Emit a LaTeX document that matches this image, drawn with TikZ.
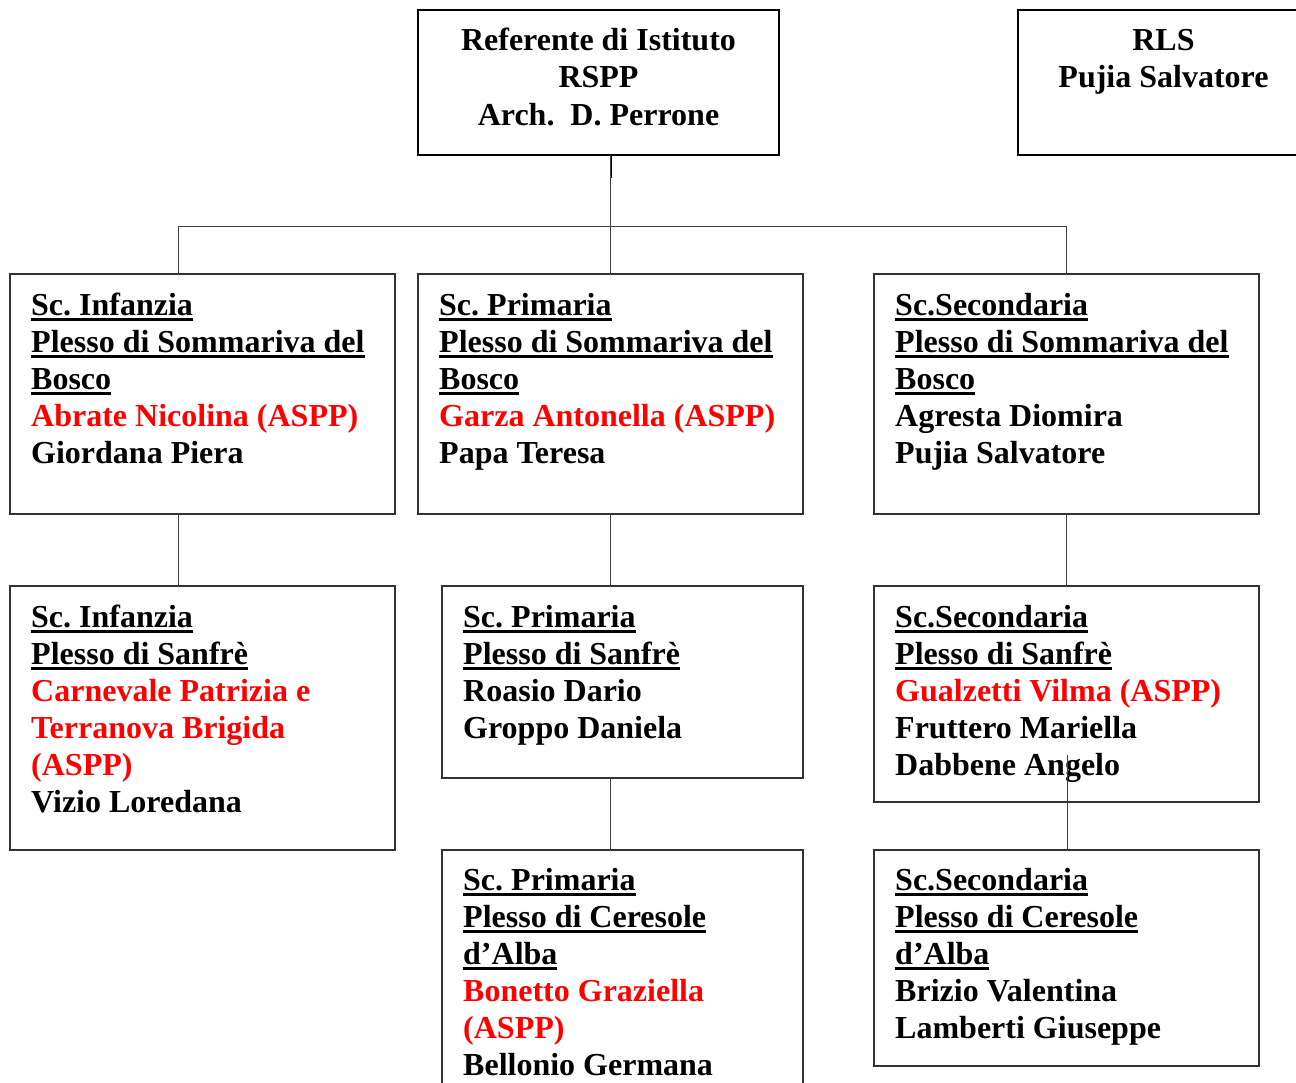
\documentclass[tikz,border=0pt]{standalone}
\usepackage{fontspec}
\setmainfont{Liberation Serif}
\frenchspacing
\newsavebox{\ulxbox}
\newcommand{\ulx}[1]{\leavevmode\sbox{\ulxbox}{#1}\rlap{\rule[-6pt]{\wd\ulxbox}{3pt}}\usebox{\ulxbox}}
\newcommand{\rd}[1]{\textcolor{red}{#1}}
\tikzset{
  x=1pt, y=-1pt,
  orgbox/.style={draw=black!80, line width=1.3pt, inner sep=0pt, outer sep=0pt, anchor=north west},
  headbox/.style={draw=black, line width=2.4pt, inner sep=0pt, outer sep=0pt, anchor=north west},
  txt/.style={anchor=north west, inner sep=0pt, align=left, font=\fontsize{32}{37}\selectfont\bfseries\frenchspacing},
  ctxt/.style={anchor=north, inner sep=0pt, align=center, font=\fontsize{32}{37.5}\selectfont\bfseries\frenchspacing},
  link/.style={draw=black!75, line width=1pt}
}
\begin{document}
\begin{tikzpicture}
\useasboundingbox (0,0) rectangle (1296,1082);
% boxes
\node[headbox, minimum width=361pt, minimum height=145pt] (top) at (418,10) {};
\node[headbox, minimum width=292pt, minimum height=145pt] (rls) at (1018,10) {};
\node[orgbox, minimum width=385pt, minimum height=240pt] (b1) at (10,274) {};
\node[orgbox, minimum width=385pt, minimum height=240pt] (b2) at (418,274) {};
\node[orgbox, minimum width=385pt, minimum height=240pt] (b3) at (874,274) {};
\node[orgbox, minimum width=385pt, minimum height=264pt] (b4) at (10,586) {};
\node[orgbox, minimum width=361pt, minimum height=192pt] (b5) at (442,586) {};
\node[orgbox, minimum width=385pt, minimum height=216pt] (b6) at (874,586) {};
\node[orgbox, minimum width=361pt, minimum height=250pt] (b7) at (442,850) {};
\node[orgbox, minimum width=385pt, minimum height=216pt] (b8) at (874,850) {};
% texts
\node[ctxt] (ttop) at (598.5,24) {\strut Referente di Istituto\\RSPP\\Arch.\ \ D. Perrone};
\node[ctxt] (trls) at (1163.5,24) {\strut RLS\\Pujia Salvatore};
\node[txt] (t1) at (31,289) {\strut\ulx{Sc. Infanzia}\\\ulx{Plesso di Sommariva del}\\\ulx{Bosco}\\\rd{Abrate Nicolina (ASPP)}\\Giordana Piera};
\node[txt] (t2) at (439,289) {\strut\ulx{Sc. Primaria}\\\ulx{Plesso di Sommariva del}\\\ulx{Bosco}\\\rd{Garza Antonella (ASPP)}\\Papa Teresa};
\node[txt] (t3) at (895,289) {\strut\ulx{Sc.Secondaria}\\\ulx{Plesso di Sommariva del}\\\ulx{Bosco}\\Agresta Diomira\\Pujia Salvatore};
\node[txt] (t4) at (31,601) {\strut\ulx{Sc. Infanzia}\\\ulx{Plesso di Sanfrè}\\\rd{Carnevale Patrizia e}\\\rd{Terranova Brigida}\\\rd{(ASPP)}\\Vizio Loredana};
\node[txt] (t5) at (463,601) {\strut\ulx{Sc. Primaria}\\\ulx{Plesso di Sanfrè}\\Roasio Dario\\Groppo Daniela};
\node[txt] (t6) at (895,601) {\strut\ulx{Sc.Secondaria}\\\ulx{Plesso di Sanfrè}\\\rd{Gualzetti Vilma (ASPP)}\\Fruttero Mariella\\Dabbene Angelo};
\node[txt] (t7) at (463,864) {\strut\ulx{Sc. Primaria}\\\ulx{Plesso di Ceresole}\\\ulx{d’Alba}\\\rd{Bonetto Graziella}\\\rd{(ASPP)}\\Bellonio Germana};
\node[txt] (t8) at (895,864) {\strut\ulx{Sc.Secondaria}\\\ulx{Plesso di Ceresole}\\\ulx{d’Alba}\\Brizio Valentina\\Lamberti Giuseppe};
% connectors
\coordinate (busL) at (178,226);
\coordinate (j6) at (1067,755);
\draw[line width=2pt] (top.south -| b2.north) -- ++(0,23);
\draw[link] (top.south -| b2.north) -- (b2.north);
\draw[link] (busL) -- (b3.north |- busL);
\draw[link] (busL) -- (busL |- b1.north);
\draw[link] (b3.north |- busL) -- (b3.north);
\draw[link] (busL |- b1.south) -- (busL |- b4.north);
\draw[link] (b2.south) -- (b2.south |- b5.north);
\draw[link] (b3.south) -- (b6.north);
\draw[link] (b2.south |- b5.south) -- (b2.south |- b7.north);
\draw[link] (j6) -- (j6 |- b8.north);
\end{tikzpicture}
\end{document}
